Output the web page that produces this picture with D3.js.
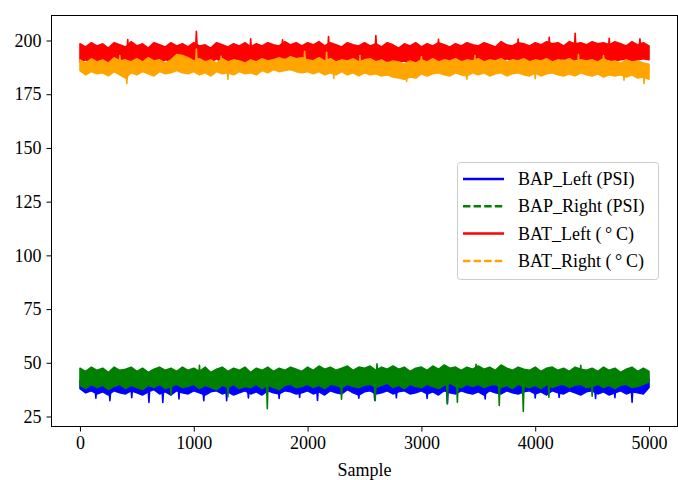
<!DOCTYPE html>
<html>
<head>
<meta charset="utf-8">
<script src="https://cdn.jsdelivr.net/npm/d3@7.9.0/dist/d3.min.js"></script>
<style>
  body { margin: 0; background: #fff; }
  svg { display: block; font-family: "Liberation Serif", "Times New Roman", serif; }
  .axis text { font-size: 18px; fill: #000; font-family: "Liberation Serif", serif; }
  .axis path, .axis line { stroke: #000; stroke-width: 1; }
</style>
</head>
<body>
<div id="chart"></div>
<script>
// each trace is read as the upper and lower edge of its noise band every 50 samples,
// plus the narrow spikes that stick out of the band
const step = 50;
const xTicks = [0, 1000, 2000, 3000, 4000, 5000];
const yTicks = [25, 50, 75, 100, 125, 150, 175, 200];

const bapLeftHigh = [
  41.5, 42, 41, 42.5, 41.5, 41, 42, 41.5, 42, 41,
  41.5, 42, 41, 41.5, 42.5, 41, 41.5, 42, 41, 41.5,
  42, 41.5, 41, 42, 41.5, 42, 41, 41.5, 42, 41.5,
  41, 42, 41.5, 42.5, 41, 41.5, 42, 41, 41.5, 42,
  41.5, 41, 42, 41.5, 42, 41, 41.5, 42, 41.5, 41,
  42, 41.5, 41, 42, 41.5, 42, 41.5, 41, 42, 41.5,
  41, 42, 41.5, 42, 41, 41.5, 42, 41.5, 41, 42,
  41.5, 42, 41, 41.5, 42, 41.5, 41, 42, 41.5, 42,
  41, 41.5, 42, 41.5, 41, 42, 41.5, 42, 41, 41.5,
  42, 41.5, 41, 42, 41.5, 42, 41, 41.5, 42, 41.5,
  42.5
];
const bapLeftLow = [
  38, 36, 37, 35.5, 36.5, 35, 37, 36, 35.5, 37,
  36, 35, 36.5, 37.5, 35.5, 36.5, 35, 37, 36, 35.5,
  37, 36, 35, 36.5, 37, 35.5, 36.5, 35, 36, 37,
  35.5, 36.5, 35, 37, 36, 35.5, 37, 36.5, 35.5, 36,
  37, 35.5, 36.5, 35, 37, 36, 35.5, 37.5, 36, 35,
  36.5, 37, 35.5, 36, 37, 35.5, 36.5, 37, 35.5, 36,
  37, 35.5, 36.5, 35, 37, 36, 35.5, 37, 36, 35.5,
  36.5, 35, 37, 36, 35.5, 37, 36, 35.5, 36.5, 37,
  35.5, 36.5, 35, 37, 36, 35.5, 37, 36, 35, 36.5,
  37, 35.5, 36.5, 35, 36, 37, 35.5, 36.5, 36, 35.5,
  38.5
];
const bapLeftSpikes = [
  [140, 33.5], [263, 32.4], [455, 33.8], [606, 31.6], [728, 31.6], [870, 33.2],
  [1088, 32.4], [1289, 32.4], [1480, 33.6], [1750, 33.4], [1930, 33.9], [2087, 32.5],
  [2450, 33.5], [2590, 32.6], [2780, 33.7], [3050, 33.4], [3228, 31], [3560, 33.2],
  [4000, 33.6], [4210, 33.9], [4530, 33.4], [4700, 33.8], [4851, 31.6]
];

const bapRightHigh = [
  47.5, 46, 48, 46.5, 47.5, 45.5, 48, 46.5, 47, 48,
  46, 47.5, 45.5, 47, 48, 46.5, 47.5, 46, 48, 46.5,
  47.5, 46, 48, 45.5, 47, 48, 46, 47.5, 46.5, 48,
  45.5, 47.5, 46.5, 48, 46, 47.5, 46.5, 48, 47, 46,
  48, 46.5, 48.5, 47, 48, 46.5, 47.5, 48.5, 46.5, 48,
  47.5, 48.5, 46.5, 48, 47, 48.5, 47, 48, 46, 47.5,
  48, 46.5, 48.5, 47, 49, 47.5, 48, 46.5, 48, 47,
  48.5, 47, 48, 46.5, 49, 47.5, 46.5, 48, 47, 46.5,
  48, 46, 47.5, 48, 46.5, 47.5, 46, 48, 47, 46.5,
  47.5, 46, 48, 46.5, 47.5, 45.5, 47, 48, 46, 47.5,
  46
];
const bapRightLow = [
  39.5, 38, 40, 38.5, 39.5, 37.5, 39, 40, 38, 39.5,
  38.5, 37.5, 39.5, 38.5, 40, 38, 39, 40, 38.5, 39,
  40, 38, 39.5, 38.5, 37.5, 39.5, 38.5, 40, 38, 39,
  38.5, 40, 38, 39.5, 38.5, 37.5, 39.5, 40, 38.5, 39,
  40, 38.5, 39.5, 38, 40, 39.5, 38.5, 40, 39, 38.5,
  39.5, 40, 38.5, 39.5, 40.5, 38.5, 39.5, 38, 40, 39,
  38.5, 40, 39, 38, 39.5, 40.5, 39, 38.5, 40, 39,
  40, 38.5, 39.5, 40, 38.5, 39.5, 38, 40, 39, 38.5,
  39.5, 38, 40, 38.5, 39.5, 40, 38.5, 39.5, 40, 38.5,
  39, 40, 38.5, 39.5, 38, 39.5, 40, 38.5, 39, 40,
  41
];
const bapRightSpikes = [
  [800, 35], [1050, 48.8], [1300, 34.2], [1646, 28.6], [2298, 33], [2594, 32.4],
  [2610, 49.5], [3228, 31], [3316, 31.6], [3480, 49.3], [3684, 30.1], [3895, 27.3],
  [4120, 34], [4400, 48.8], [4500, 34.5]
];

const batLeftHigh = [
  198.5, 197, 199, 197.5, 198.5, 196.5, 199, 198, 197, 199.5,
  197.5, 198.5, 196.5, 199, 198, 197, 199, 197.5, 198.5, 197,
  199, 197.5, 198, 196.5, 199, 198, 197, 198.5, 197.5, 199,
  197, 198.5, 197.5, 199, 198, 197.5, 199.5, 198, 199, 197.5,
  199, 198, 199.5, 197.5, 199, 198, 197, 199, 198, 197.5,
  199, 197.5, 198.5, 197, 199, 198, 196.5, 198.5, 197.5, 199,
  197, 198.5, 197.5, 199, 198, 197, 198.5, 197.5, 199, 198,
  197.5, 199, 198, 197, 199.5, 198, 197.5, 199, 198.5, 197.5,
  199, 198, 199.5, 198.5, 199, 197.5, 199.5, 198.5, 199, 198,
  199.5, 198.5, 199, 198, 199.5, 198.5, 197.5, 199.5, 198, 199,
  197.5
];
const batLeftLow = [
  190, 191, 189.5, 190.5, 191, 189.5, 190.5, 191.5, 190, 191,
  189.5, 190.5, 191, 190, 189.5, 191, 190.5, 189.5, 191, 190,
  190.5, 189.5, 191, 190, 191.5, 190, 189.5, 191, 190.5, 190,
  191, 189.5, 190.5, 191, 190, 191.5, 192, 191, 191.5, 190.5,
  191, 190, 191.5, 190.5, 191, 190, 190.5, 189.5, 191, 190,
  190.5, 189.5, 191, 190, 190.5, 189.5, 190, 190.5, 189, 190,
  191, 190, 190.5, 189.5, 191, 190.5, 190, 191, 189.5, 190.5,
  191, 190, 190.5, 191, 190, 191.5, 190.5, 191, 190, 190.5,
  191, 190.5, 191.5, 190.5, 191, 191.5, 190.5, 191, 191.5, 190.5,
  191, 190.5, 191.5, 191, 190.5, 191, 191.5, 190.5, 191, 191.5,
  191
];
const batLeftSpikes = [
  [420, 200.5], [1023, 204.3], [1500, 200.8], [1780, 200.3], [2184, 201.9],
  [2600, 202.3], [3150, 200.6], [3850, 200.7], [4123, 201.5], [4351, 203.4],
  [4650, 201], [4920, 200.8]
];

const batRightHigh = [
  191, 189.5, 191.5, 190, 191, 189.5, 192, 190.5, 191, 190,
  191.5, 190, 192, 190.5, 191, 189.5, 191, 193.5, 193, 192,
  190.5, 191.5, 190, 191, 189.5, 191.5, 190, 191, 190.5, 189.5,
  191, 190, 191.5, 190.5, 191, 192, 191, 192.5, 191.5, 192,
  191, 190.5, 192, 190.5, 191.5, 190, 191, 190.5, 191.5, 190,
  191, 191.5, 190, 191, 189.5, 190.5, 190, 189, 190.5, 189.5,
  191, 190, 191.5, 190, 191, 190.5, 191.5, 190, 191, 190.5,
  191.5, 190, 191, 190.5, 191.5, 190, 191, 190.5, 191.5, 190,
  191, 190.5, 191.5, 190, 191, 190.5, 191.5, 190, 191, 190.5,
  191, 190, 191.5, 190, 190.5, 189.5, 191, 190, 190.5, 189.5,
  189
];
const batRightLow = [
  186, 184, 185.5, 184.5, 185, 183.5, 185.5, 184, 182.5, 185,
  184, 185.5, 184.5, 183.5, 185.5, 184.5, 185, 186, 185, 184.5,
  185.5, 184, 185, 183.5, 185.5, 184.5, 185, 184, 185.5, 184.5,
  185, 184, 186, 185, 186.5, 185.5, 186, 186.5, 185.5, 185,
  185.5, 184.5, 185.5, 184, 185, 184, 185.5, 184, 185, 183.5,
  185, 184, 184.5, 183.5, 184, 183, 182.5, 182, 183, 182.5,
  184.5, 183.5, 184.5, 185, 184, 183.5, 185, 184, 183.5, 185,
  184, 185, 183.5, 184.5, 185, 183.5, 184.5, 185, 184, 183.5,
  185, 183.5, 184.5, 185, 184, 183.5, 184.5, 183.5, 185, 184,
  183.5, 184.5, 183, 184, 183.5, 184, 183, 184, 182.5, 183,
  182
];
const batRightSpikes = [
  [350, 193], [412, 180], [1023, 196], [1240, 192.6], [1300, 182], [1974, 195],
  [2167, 194.5], [2230, 182.5], [2460, 193], [2870, 181], [3000, 192.5], [3400, 182],
  [3470, 193], [4000, 182.2], [4380, 193.5], [4600, 193], [4780, 181.5], [4956, 180]
];

const series = [
  { name: "BAP_Left (PSI)", high: bapLeftHigh, low: bapLeftLow, spikes: bapLeftSpikes, color: "blue", dash: null },
  { name: "BAP_Right (PSI)", high: bapRightHigh, low: bapRightLow, spikes: bapRightSpikes, color: "green", dash: "7.4,3.2" },
  { name: "BAT_Left (\u2009\u00b0\u2009C)", high: batLeftHigh, low: batLeftLow, spikes: batLeftSpikes, color: "red", dash: null },
  { name: "BAT_Right (\u2009\u00b0\u2009C)", high: batRightHigh, low: batRightLow, spikes: batRightSpikes, color: "orange", dash: "7.4,3.2" }
];

const width = 678;
const height = 480;

const svg = d3.select("#chart")
  .append("svg")
  .attr("width", width)
  .attr("height", height);

const xScale = d3.scaleLinear()
  .domain([-250, 5250])
  .range([51.5, 677.5]);

const yScale = d3.scaleLinear()
  .domain([20.35, 211.64])
  .range([426.5, 15.5]);

const band = d3.area()
  .x((d, i) => xScale(i * step))
  .y0(d => yScale(d[0]))
  .y1(d => yScale(d[1]));

const spikeLine = d3.line()
  .x(d => xScale(d[0]))
  .y(d => yScale(d[1]));

const traces = svg.append("g")
  .selectAll("g")
  .data(series)
  .join("g");

traces.append("path")
  .attr("d", d => band(d.low.map((v, i) => [v, d.high[i]])))
  .attr("fill", d => d.color)
  .attr("stroke", d => d.color)
  .attr("stroke-width", 1.5)
  .attr("stroke-linejoin", "round");

// spikes rise from the middle of the band to the read value
traces.append("path")
  .attr("d", d => d.spikes.map(([s, v]) => {
    const i = Math.round(s / step);
    const mid = (d.low[i] + d.high[i]) / 2;
    return spikeLine([[s - 8, mid], [s, v], [s + 8, mid]]);
  }).join(""))
  .attr("fill", d => d.color)
  .attr("stroke", d => d.color)
  .attr("stroke-width", 1.6)
  .attr("stroke-linejoin", "round");

// axes
svg.append("g")
  .attr("class", "axis")
  .attr("transform", "translate(0,426.5)")
  .call(d3.axisBottom(xScale).tickValues(xTicks).tickFormat(d3.format("d")).tickSize(5).tickPadding(5).tickSizeOuter(0))
  .call(g => g.select(".domain").remove());

svg.append("g")
  .attr("class", "axis")
  .attr("transform", "translate(51.5,0)")
  .call(d3.axisLeft(yScale).tickValues(yTicks).tickFormat(d3.format("d")).tickSize(5).tickPadding(5).tickSizeOuter(0))
  .call(g => g.select(".domain").remove());

svg.append("rect")
  .attr("x", 51.5)
  .attr("y", 15.5)
  .attr("width", 626)
  .attr("height", 411)
  .attr("fill", "none")
  .attr("stroke", "#000")
  .attr("stroke-width", 1);

svg.append("text")
  .attr("x", 364.5)
  .attr("y", 476)
  .attr("text-anchor", "middle")
  .attr("font-size", 18)
  .text("Sample");

// legend
const legend = svg.append("g").attr("transform", "translate(457,162)");

legend.append("rect")
  .attr("x", 0.5)
  .attr("y", 0.5)
  .attr("width", 201)
  .attr("height", 117)
  .attr("rx", 3)
  .attr("fill", "#fff")
  .attr("fill-opacity", 0.8)
  .attr("stroke", "#ccc");

const items = legend.selectAll("g.item")
  .data(series)
  .join("g")
  .attr("class", "item")
  .attr("transform", (d, i) => `translate(0,${17 + i * 27.3})`);

items.append("line")
  .attr("x1", 6)
  .attr("x2", 47)
  .attr("stroke", d => d.color)
  .attr("stroke-width", 2.5)
  .attr("stroke-dasharray", d => d.dash);

items.append("text")
  .attr("x", 61)
  .attr("y", 6)
  .attr("font-size", 18)
  .text(d => d.name);
</script>
</body>
</html>
